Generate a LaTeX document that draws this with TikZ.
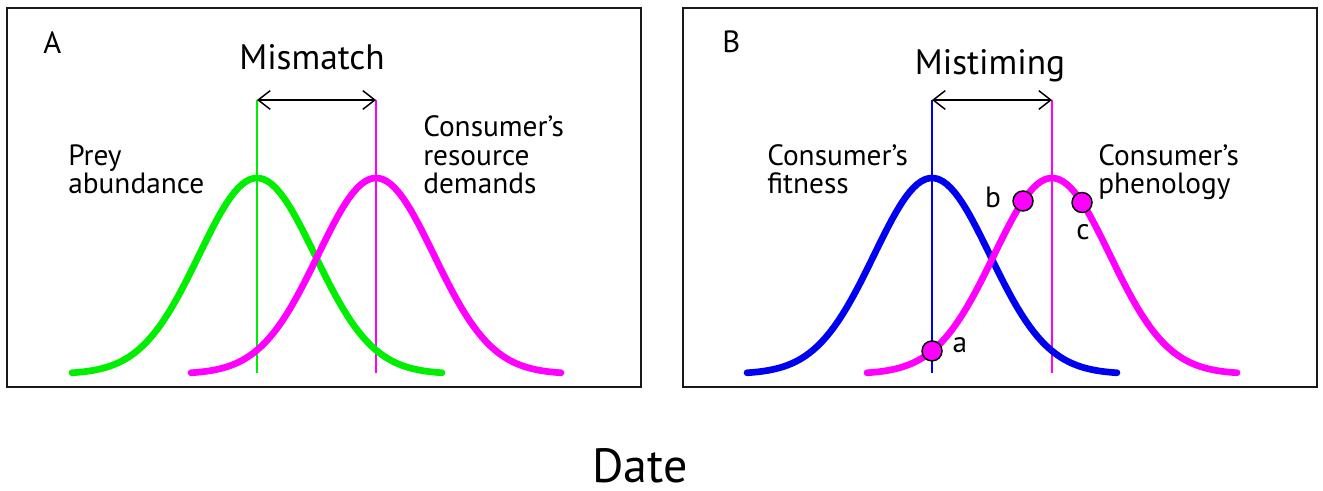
\documentclass[tikz,border=0pt]{standalone}
\usepackage{fontspec}
\setmainfont{PT Sans}
\usetikzlibrary{arrows.meta}

\definecolor{preygreen}{RGB}{0,238,0}
\definecolor{demandpink}{RGB}{255,0,255}
\definecolor{fitblue}{RGB}{0,0,240}

\tikzset{
  panel/.style={draw=black!90, line width=1.8pt},
  bellcurve/.style={line width=5pt, line cap=round},
  guide/.style={line width=1pt},
  span/.style={{Straight Barb[length=9pt,width=14pt]}-{Straight Barb[length=9pt,width=14pt]}, line width=1.1pt},
  lbl/.style={font=\fontsize{22}{21.4}\selectfont, inner sep=0pt, align=left, anchor=base west},
  title/.style={font=\fontsize{26.5}{28}\selectfont, inner sep=0pt, anchor=base},
  letter/.style={font=\fontsize{23}{26}\selectfont, inner sep=0pt, anchor=base west},
  dot/.style={circle, draw=black, fill=demandpink, line width=1.1pt, minimum size=15pt, inner sep=0pt}
}

\begin{document}
\begin{tikzpicture}[x=0.75pt,y=0.75pt,yscale=-1,xscale=1,
  declare function={bell(\d)=374-196*exp(-0.5*(\d/58)^2);}]
\useasboundingbox (0,0) rectangle (1323,491);

%Panels
\draw[panel] (7,8) rectangle (641,387);
\draw[panel] (683,8) rectangle (1317,387);

%Guide lines, panel A
\coordinate (preytop) at (257,100);
\coordinate (preybot) at (257,373);
\coordinate (demtop) at (376,100);
\coordinate (dembot) at (376,373);
\draw[guide, preygreen] (preytop) -- (preybot);
\draw[guide, demandpink] (demtop) -- (dembot);

%Guide lines, panel B
\coordinate (fittop) at (932,100);
\coordinate (fitbot) at (932,373);
\coordinate (phentop) at (1052,100);
\coordinate (phenbot) at (1052,373);
\draw[guide, fitblue] (fittop) -- (fitbot);
\draw[guide, demandpink] (phentop) -- (phenbot);

%Curves
\draw[bellcurve, preygreen] plot[domain=-185:185, samples=90] ({257+\x},{bell(\x)});
\draw[bellcurve, demandpink] plot[domain=-185:185, samples=90] ({376+\x},{bell(\x)});
\draw[bellcurve, fitblue] plot[domain=-185:185, samples=90] ({932+\x},{bell(\x)});
\draw[bellcurve, demandpink] plot[domain=-185:185, samples=90] ({1052+\x},{bell(\x)});

%Spans
\draw[span] (preytop) -- (demtop);
\draw[span] (fittop) -- (phentop);

%Points on phenology
\node[dot] (pa) at (932,{bell(-120)}) {};
\node[dot] (pb) at (1023,{bell(-29)}) {};
\node[dot] (pc) at (1082,{bell(30)}) {};

% Text Node
\node[letter] (lblA) at (43,54) {A};
\node[letter] (lblB) at (722,53) {B};
\node[title] (mismatch) at (312,70) {Mismatch};
\node[title] (mistiming) at (990,75) {Mistiming};
\node[lbl] (prey) at (68,194) {Prey\\abundance};
\node[lbl] (demand) at (423,194) {Consumer’s\\resource\\demands};
\node[lbl] (fitness) at (767,194) {Consumer’s\\fitness};
\node[lbl] (phenology) at (1098,194) {Consumer’s\\phenology};
\node[lbl, anchor=base] (ta) at (960,353) {a};
\node[lbl, anchor=base] (tb) at (993,208) {b};
\node[lbl, anchor=base] (tc) at (1083,240) {c};
\node[font=\fontsize{36}{40}\selectfont, inner sep=0pt, anchor=base] (date) at (640,482) {Date};

\end{tikzpicture}
\end{document}
